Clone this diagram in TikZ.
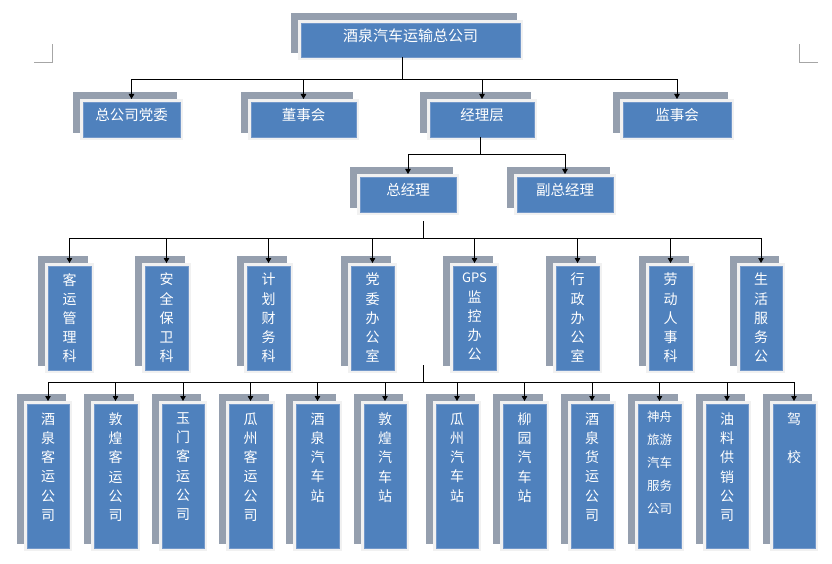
\documentclass[tikz,border=0pt]{standalone}
\usepackage{fontspec}
\newfontfamily\cjk{Noto Sans CJK SC}
\usetikzlibrary{arrows.meta}
\definecolor{backgray}{HTML}{959FAE}
\definecolor{rimc}{HTML}{F1F1F1}
\definecolor{boxblue}{HTML}{4F81BD}
\definecolor{boxedge}{HTML}{7398CA}
\definecolor{markgray}{HTML}{A6A6A6}
\tikzset{
  bluebox/.style={rectangle, fill=boxblue, draw=boxedge, line width=0.7pt, inner sep=0pt, outer sep=0pt,
    text=white, text height=0.88em, text depth=0.65em},
  vtext/.style={text=white, align=center, inner sep=0pt,
    execute at begin node={\rule[-0.12em]{0pt}{1em}}},
  conn/.style={line width=0.9pt, draw=black},
  arr/.style={conn, -{Triangle[length=5pt,width=5.5pt]}},
  cornermark/.style={draw=markgray, line width=0.8pt}
}
% horizontal box: name, x1, y1, x2, y2, font, text
\newcommand\orgh[7]{%
  \fill[backgray] ({#2-10},{#3-10}) rectangle ({#4-3},{#5-4});
  \fill[rimc] ({#2-3},{#3-3}) rectangle ({#4+3},{#5+3});
  \pgfmathsetmacro\bw{#4-#2}\pgfmathsetmacro\bh{#5-#3}
  \node[bluebox, font=#6, minimum width=\bw pt, minimum height=\bh pt] (#1) at ({(#2+#4)/2},{(#3+#5)/2}) {#7};}
% vertical box: name, x1, y1, x2, y2, text top, font, text
\newcommand\orgv[8]{%
  \fill[backgray] ({#2-10},{#3-10}) rectangle ({#4-3},{#5-4});
  \fill[rimc] ({#2-3},{#3-3}) rectangle ({#4+3},{#5+3});
  \pgfmathsetmacro\bw{#4-#2}\pgfmathsetmacro\bh{#5-#3}
  \node[bluebox, minimum width=\bw pt, minimum height=\bh pt] (#1) at ({(#2+#4)/2},{(#3+#5)/2}) {};
  \node[vtext, font=#7, anchor=north] (#1t) at ({(#2+#4)/2},#6) {#8};}
\newcommand\fa{\fontsize{14}{19.2}\selectfont\cjk}
\newcommand\fb{\fontsize{12.5}{23}\selectfont\cjk}
\begin{document}
\begin{tikzpicture}[x=1pt,y=-1pt]
\useasboundingbox (0,0) rectangle (832,564);
% corner marks
\coordinate (cl1) at (34,62); \coordinate (cl2) at (52,62); \coordinate (cl3) at (52,44);
\draw[cornermark] (cl1) -- (cl2) -- (cl3);
\coordinate (cr1) at (818,62); \coordinate (cr2) at (799,62); \coordinate (cr3) at (799,44);
\draw[cornermark] (cr1) -- (cr2) -- (cr3);

% level 1
\orgh{top}{301}{23}{520}{57}{\fontsize{15}{18}\selectfont\cjk}{酒泉汽车运输总公司}
% level 2
\orgh{dw}{83}{102}{180}{137}{\fontsize{14.5}{18}\selectfont\cjk}{总公司党委}
\orgh{ds}{251}{102}{356}{137}{\fontsize{14.5}{18}\selectfont\cjk}{董事会}
\orgh{jl}{430}{102}{534}{137}{\fontsize{14.5}{18}\selectfont\cjk}{经理层}
\orgh{js}{623}{102}{731}{137}{\fontsize{14.5}{18}\selectfont\cjk}{监事会}
% level 3
\orgh{zj}{360}{177}{456}{212}{\fontsize{14.5}{18}\selectfont\cjk}{总经理}
\orgh{fz}{517}{177}{613}{212}{\fontsize{14.5}{18}\selectfont\cjk}{副总经理}
% level 4
\orgv{a1}{48}{266}{91}{370}{273}{\fa}{客\\运\\管\\理\\科}
\orgv{a2}{145}{266}{188}{370}{273}{\fa}{安\\全\\保\\卫\\科}
\orgv{a3}{247}{266}{290}{370}{273}{\fa}{计\\划\\财\\务\\科}
\orgv{a4}{351}{266}{394}{370}{273}{\fa}{党\\委\\办\\公\\室}
\orgv{a5}{453}{266}{496}{370}{273}{\fa}{{\fontsize{13}{19.2}\selectfont GPS}\\监\\控\\办\\公}
\orgv{a6}{556}{266}{599}{370}{273}{\fa}{行\\政\\办\\公\\室}
\orgv{a7}{649}{266}{692}{370}{273}{\fa}{劳\\动\\人\\事\\科}
\orgv{a8}{740}{266}{782}{370}{273}{\fa}{生\\活\\服\\务\\公}
% level 5
\orgv{b1}{27}{404}{69}{548}{412.5}{\fa}{酒\\泉\\客\\运\\公\\司}
\orgv{b2}{94}{404}{137}{548}{412.5}{\fa}{敦\\煌\\客\\运\\公\\司}
\orgv{b3}{162}{404}{204}{548}{412.5}{\fa}{玉\\门\\客\\运\\公\\司}
\orgv{b4}{229}{404}{272}{548}{412.5}{\fa}{瓜\\州\\客\\运\\公\\司}
\orgv{b5}{296}{404}{339}{548}{412.5}{\fa}{酒\\泉\\汽\\车\\站}
\orgv{b6}{364}{404}{406}{548}{412.5}{\fa}{敦\\煌\\汽\\车\\站}
\orgv{b7}{436}{404}{478}{548}{412.5}{\fa}{瓜\\州\\汽\\车\\站}
\orgv{b8}{503}{404}{546}{548}{412.5}{\fa}{柳\\园\\汽\\车\\站}
\orgv{b9}{571}{404}{613}{548}{412.5}{\fa}{酒\\泉\\货\\运\\公\\司}
\orgv{b10}{638}{404}{681}{548}{410.8}{\fb}{神舟\\旅游\\汽车\\服务\\公司}
\orgv{b11}{706}{404}{748}{548}{412.5}{\fa}{油\\料\\供\\销\\公\\司}
\orgv{b12}{773}{404}{815}{548}{412.5}{\fa}{驾\\[19.2pt]校}

% connectors level 1 -> 2
\coordinate (j1) at (402,79);
\draw[conn] (top.south -| j1) -- (j1);
\foreach \c in {dw,ds,jl,js} \draw[arr] (j1) -| ([yshift=3pt]\c.north);
% level 2 -> 3
\coordinate (j2) at (480,154);
\draw[conn] (jl.south -| j2) -- (j2);
\foreach \c in {zj,fz} \draw[arr] (j2) -| ([yshift=3pt]\c.north);
% level 3 -> 4
\coordinate (s3) at (423,221);
\coordinate (j3) at (423,238);
\draw[conn] (s3) -- (j3);
\foreach \c in {a1,a2,a3,a4,a5,a6,a7,a8} \draw[arr] (j3) -| ([yshift=3pt]\c.north);
% level 4 -> 5
\coordinate (s4) at (423,365);
\coordinate (j4) at (423,382);
\draw[conn] (s4) -- (j4);
\foreach \c in {b1,b2,b3,b4,b5,b6,b7,b8,b9,b10,b11,b12} \draw[arr] (j4) -| ([yshift=3pt]\c.north);
\end{tikzpicture}
\end{document}
